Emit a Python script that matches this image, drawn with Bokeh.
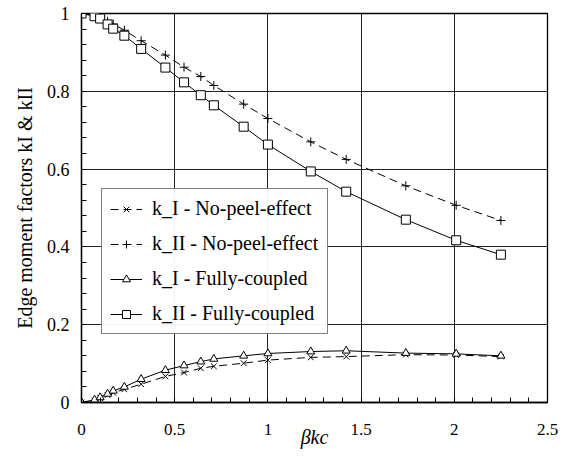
import math
from bokeh.plotting import figure
from bokeh.models import (Legend, LegendItem, FixedTicker, CustomJSTickFormatter,
                          Range1d)
from bokeh.embed import file_html
from bokeh.resources import INLINE

beta_c = [0, 0.07, 0.10, 0.14, 0.17, 0.23, 0.32, 0.45, 0.55, 0.64, 0.71, 0.87, 1.00,
          1.23, 1.42, 1.74, 2.01, 2.25]
kI_nopeel = [0, 0.005, 0.011, 0.019, 0.025, 0.034, 0.047, 0.067, 0.077, 0.088, 0.093,
             0.101, 0.109, 0.116, 0.118, 0.123, 0.122, 0.118]
kII_nopeel = [1.0, 0.995, 0.990, 0.980, 0.973, 0.957, 0.930, 0.893, 0.862, 0.838, 0.815,
              0.767, 0.730, 0.670, 0.625, 0.557, 0.507, 0.468]
kI_coupled = [0, 0.007, 0.013, 0.022, 0.030, 0.040, 0.060, 0.083, 0.095, 0.105, 0.112,
              0.120, 0.126, 0.131, 0.133, 0.127, 0.125, 0.120]
kII_coupled = [1.0, 0.993, 0.987, 0.972, 0.961, 0.943, 0.909, 0.861, 0.823, 0.790, 0.764,
               0.709, 0.663, 0.594, 0.542, 0.470, 0.417, 0.380]

series_labels = ["k_I - No-peel-effect", "k_II - No-peel-effect",
                 "k_I - Fully-coupled", "k_II - Fully-coupled"]
x_ticks = [0, 0.5, 1, 1.5, 2, 2.5]
y_ticks = [0, 0.2, 0.4, 0.6, 0.8, 1]
x_title = "βkc"
y_title = "Edge moment factors kI & kII"

SERIF = "Liberation Serif"

p = figure(width=568, height=458, output_backend="svg", toolbar_location=None,
           x_range=Range1d(0, 2.5), y_range=Range1d(0, 1),
           min_border_left=81, min_border_right=21, min_border_top=13,
           min_border_bottom=56)
p.outline_line_color = "black"
p.outline_line_width = 1.3

fmt = CustomJSTickFormatter(code="return String(Math.round(tick*100)/100);")
p.xaxis.ticker = FixedTicker(ticks=x_ticks, minor_ticks=[i * 0.1 for i in range(26)])
p.yaxis.ticker = FixedTicker(ticks=y_ticks, minor_ticks=[i * 0.04 for i in range(26)])
for ax in (p.xaxis, p.yaxis):
    ax.formatter = fmt
    ax.major_label_text_font = SERIF
    ax.major_label_text_font_style = "normal"
    ax.major_label_text_color = "black"
    ax.axis_line_color = "black"
    ax.axis_line_width = 1.3
    ax.major_tick_in = 5
    ax.major_tick_out = 0
    ax.minor_tick_in = 5
    ax.minor_tick_out = 0
    ax.axis_label_text_font = SERIF
    ax.axis_label_text_font_size = "20px"
    ax.axis_label_text_color = "black"
p.xaxis.major_label_text_font_size = "17px"
p.yaxis.major_label_text_font_size = "18px"
p.xaxis.major_label_standoff = 21
p.yaxis.major_label_standoff = 12
p.xaxis.axis_label = x_title
p.xaxis.axis_label_text_font_style = "italic"
p.xaxis.axis_label_standoff = -12
p.yaxis.axis_label = y_title
p.yaxis.axis_label_text_font_style = "normal"
p.yaxis.axis_label_standoff = 8

p.grid.grid_line_color = "#222222"
p.grid.grid_line_width = 1

r1l = p.line(beta_c, kI_nopeel, line_color="black", line_width=1, line_dash="8 5")
r1s = p.scatter(beta_c, kI_nopeel, marker="x", size=8, line_color="black")
r2l = p.line(beta_c, kII_nopeel, line_color="black", line_width=1, line_dash="8 5")
r2s = p.scatter(beta_c, kII_nopeel, marker="cross", size=9, line_color="black")
r3l = p.line(beta_c, kI_coupled, line_color="black", line_width=1)
r3s = p.scatter(beta_c, kI_coupled, marker="triangle", size=8, line_color="black",
                fill_color="white")
r4l = p.line(beta_c, kII_coupled, line_color="black", line_width=1)
r4s = p.scatter(beta_c, kII_coupled, marker="square", size=9, line_color="black",
                fill_color="white")

legend = Legend(items=[
    LegendItem(label=series_labels[0], renderers=[r1l, r1s]),
    LegendItem(label=series_labels[1], renderers=[r2l, r2s]),
    LegendItem(label=series_labels[2], renderers=[r3l, r3s]),
    LegendItem(label=series_labels[3], renderers=[r4l, r4s]),
], location=(20, 68))
legend.label_text_font = SERIF
legend.label_text_font_style = "normal"
legend.label_text_font_size = "20px"
legend.label_text_color = "black"
legend.border_line_color = "black"
legend.border_line_width = 1
legend.padding = 8
legend.spacing = 12
legend.margin = 0
legend.glyph_width = 32
legend.glyph_height = 20
legend.label_height = 20
legend.label_standoff = 10
legend.label_width = 167
p.add_layout(legend, "center")

open("out.html", "w").write(file_html(p, INLINE))
